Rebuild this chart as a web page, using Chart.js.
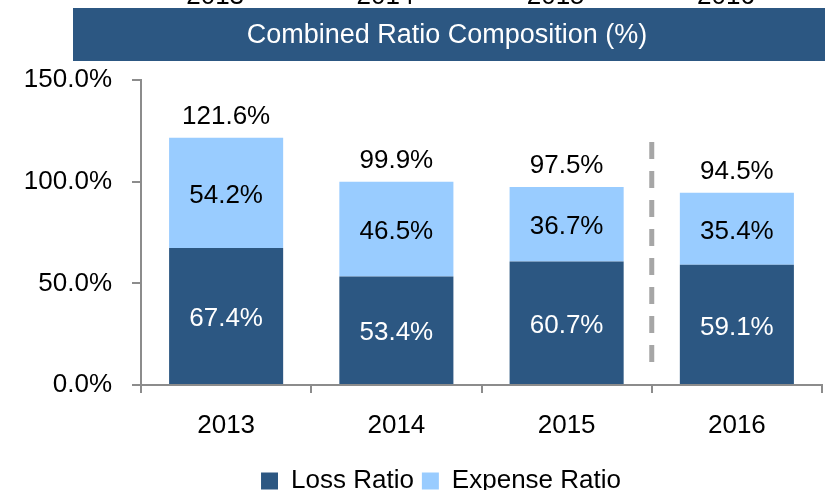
<!DOCTYPE html>
<html>
<head>
<meta charset="utf-8">
<script src="https://cdn.jsdelivr.net/npm/chart.js@4"></script>
<style>
  html, body { margin: 0; padding: 0; background: #fff; }
  #wrap { width: 825px; height: 490px; position: relative; overflow: hidden; }
</style>
</head>
<body>
<div id="wrap"><canvas id="chart" width="825" height="490"></canvas></div>
<script>
const years = ['2013', '2014', '2015', '2016'];
const lossRatio = [67.4, 53.4, 60.7, 59.1];
const expenseRatio = [54.2, 46.5, 36.7, 35.4];
const combinedRatio = [121.6, 99.9, 97.5, 94.5];
const yTicks = [0, 50, 100, 150];

const DARK = '#2C5782';
const LIGHT = '#99CCFF';
const FONT = '"Liberation Sans", Arial, sans-serif';

const fmt = (v) => v.toFixed(1) + '%';

// banner, cut-off year row, dashed separator and value labels
const decor = {
  id: 'decor',
  afterLayout(chart) {
    // legend sits a bit right of the canvas centre
    if (chart.legend) {
      chart.legend.left += 30;
      chart.legend.right += 30;
    }
  },
  beforeDraw(chart) {
    const ctx = chart.ctx;
    const x = chart.scales.x;
    ctx.save();
    ctx.fillStyle = DARK;
    ctx.fillRect(73, 8, 752, 53);
    ctx.fillStyle = '#fff';
    ctx.font = '27px ' + FONT;
    ctx.textAlign = 'center';
    ctx.textBaseline = 'middle';
    ctx.fillText('Combined Ratio Composition (%)', 447, 36);
    ctx.fillStyle = '#000';
    ctx.textBaseline = 'alphabetic';
    ctx.font = '26px ' + FONT;
    years.forEach((yr, i) => {
      ctx.fillText(yr, x.getPixelForValue(i) - 11, 4);
    });
    ctx.restore();
  },
  afterDatasetsDraw(chart) {
    const ctx = chart.ctx;
    const x = chart.scales.x;
    const y = chart.scales.y;
    ctx.save();
    // separator between 2015 and 2016
    const sx = (x.getPixelForValue(2) + x.getPixelForValue(3)) / 2;
    ctx.strokeStyle = '#A6A6A6';
    ctx.lineWidth = 5;
    ctx.setLineDash([17, 12]);
    ctx.beginPath();
    ctx.moveTo(sx, y.getPixelForValue(119.5));
    ctx.lineTo(sx, y.getPixelForValue(10.5));
    ctx.stroke();
    ctx.setLineDash([]);

    ctx.font = '26px ' + FONT;
    ctx.textAlign = 'center';
    ctx.textBaseline = 'middle';
    const loss = chart.getDatasetMeta(0).data;
    const exp = chart.getDatasetMeta(1).data;
    loss.forEach((bar, i) => {
      ctx.fillStyle = '#fff';
      ctx.fillText(fmt(lossRatio[i]), bar.x, (bar.y + bar.base) / 2 + 3);
    });
    exp.forEach((bar, i) => {
      ctx.fillStyle = '#000';
      ctx.fillText(fmt(expenseRatio[i]), bar.x, (bar.y + bar.base) / 2 + 3);
      ctx.fillText(fmt(combinedRatio[i]), bar.x, bar.y - 21);
    });
    ctx.restore();
  }
};

new Chart(document.getElementById('chart'), {
  type: 'bar',
  data: {
    labels: years,
    datasets: [
      { label: 'Loss Ratio', data: lossRatio, backgroundColor: DARK },
      { label: 'Expense Ratio', data: expenseRatio, backgroundColor: LIGHT }
    ]
  },
  options: {
    responsive: false,
    animation: false,
    layout: { padding: { top: 80, right: 3, left: 0, bottom: -14 } },
    datasets: { bar: { barPercentage: 0.67, categoryPercentage: 1 } },
    scales: {
      x: {
        stacked: true,
        grid: { drawOnChartArea: false, color: '#8C8C8C', tickLength: 8, lineWidth: 2 },
        border: { color: '#8C8C8C', width: 2 },
        ticks: { color: '#000', font: { family: FONT, size: 26 }, padding: 17 },
        afterFit(s) { s.height = 75; }
      },
      y: {
        stacked: true,
        min: 0,
        max: 150,
        afterBuildTicks(s) { s.ticks = yTicks.map(v => ({ value: v })); },
        grid: { drawOnChartArea: false, color: '#8C8C8C', tickLength: 9, lineWidth: 2 },
        border: { color: '#8C8C8C', width: 2 },
        ticks: { color: '#000', font: { family: FONT, size: 26 }, padding: 20, callback: (v) => fmt(v) },
        afterFit(s) { s.width = 141; }
      }
    },
    plugins: {
      legend: {
        position: 'bottom',
        labels: {
          color: '#000',
          font: { family: FONT, size: 26, lineHeight: 1 },
          boxWidth: 17,
          boxHeight: 17,
          padding: 8
        }
      },
      tooltip: { enabled: false }
    }
  },
  plugins: [decor]
});
</script>
</body>
</html>
